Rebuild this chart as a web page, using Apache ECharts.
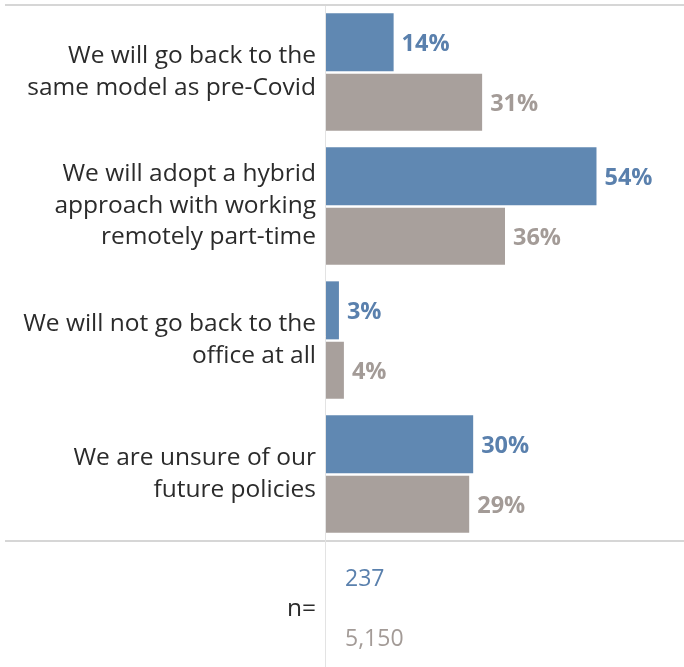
<!DOCTYPE html>
<html>
<head>
<meta charset="utf-8">
<script src="https://cdn.jsdelivr.net/npm/echarts@6/dist/echarts.min.js"></script>
<style>
html,body{margin:0;padding:0;background:#fff;}
#chart{width:684px;height:667px;}
</style>
</head>
<body>
<div id="chart"></div>
<script>
var categories = [
  'We will go back to the\nsame model as pre-Covid',
  'We will adopt a hybrid\napproach with working\nremotely part-time',
  'We will not go back to the\noffice at all',
  'We are unsure of our\nfuture policies'
];
var seriesBlue = [13.6, 54.4, 2.6, 29.6];
var seriesGray = [31.4, 36.0, 3.6, 28.8];
var nLabel = 'n=';
var nValues = ['237', '5,150'];

var BLUE = '#6088b2', GRAY = '#a8a09c';
var BLUE_T = '#5a80ad', GRAY_T = '#a39b97';
var FONT = 'Open Sans';

var chart = echarts.init(document.getElementById('chart'), null, {renderer: 'canvas'});
function lbl(color) {
  return {
    show: true, position: 'right', distance: 8, offset: [0, 2],
    color: color, fontWeight: 'bold', fontSize: 23.5, fontFamily: FONT,
    formatter: function (p) { return Math.round(p.value) + '%'; }
  };
}
chart.setOption({
  animation: false,
  backgroundColor: '#fff',
  grid: {left: 326, right: 0, top: 5, bottom: 126, containLabel: false},
  xAxis: {
    type: 'value', min: 0, max: 72,
    axisLine: {show: false}, axisTick: {show: false},
    axisLabel: {show: false}, splitLine: {show: false}
  },
  yAxis: {
    type: 'category', data: categories, inverse: true,
    axisLine: {show: false}, axisTick: {show: false},
    axisLabel: {
      margin: 10, fontSize: 24.5, lineHeight: 31.5, color: '#2b2b2b',
      fontFamily: FONT, align: 'right'
    }
  },
  series: [
    {type: 'bar', data: seriesBlue, barWidth: 58, barGap: '4%',
     itemStyle: {color: BLUE}, label: lbl(BLUE_T)},
    {type: 'bar', data: seriesGray, barWidth: 57,
     itemStyle: {color: GRAY}, label: lbl(GRAY_T)}
  ],
  graphic: [
    {type: 'line', shape: {x1: 5, y1: 5, x2: 684, y2: 5}, style: {stroke: '#d6d6d6', lineWidth: 2}, z: 10},
    {type: 'line', shape: {x1: 5, y1: 541, x2: 684, y2: 541}, style: {stroke: '#d6d6d6', lineWidth: 2}, z: 10},
    {type: 'line', shape: {x1: 325.5, y1: 6, x2: 325.5, y2: 667}, style: {stroke: '#e3e3e3', lineWidth: 1}, z: 10},
    {type: 'text', x: 316, y: 609, style: {text: nLabel, fontSize: 24.5, fontFamily: FONT, fill: '#2b2b2b', align: 'right', verticalAlign: 'middle'}},
    {type: 'text', x: 345, y: 579, style: {text: nValues[0], fontSize: 23, fontFamily: FONT, fill: BLUE_T, align: 'left', verticalAlign: 'middle'}},
    {type: 'text', x: 345, y: 639, style: {text: nValues[1], fontSize: 23, fontFamily: FONT, fill: GRAY_T, align: 'left', verticalAlign: 'middle'}}
  ]
});
</script>
</body>
</html>
